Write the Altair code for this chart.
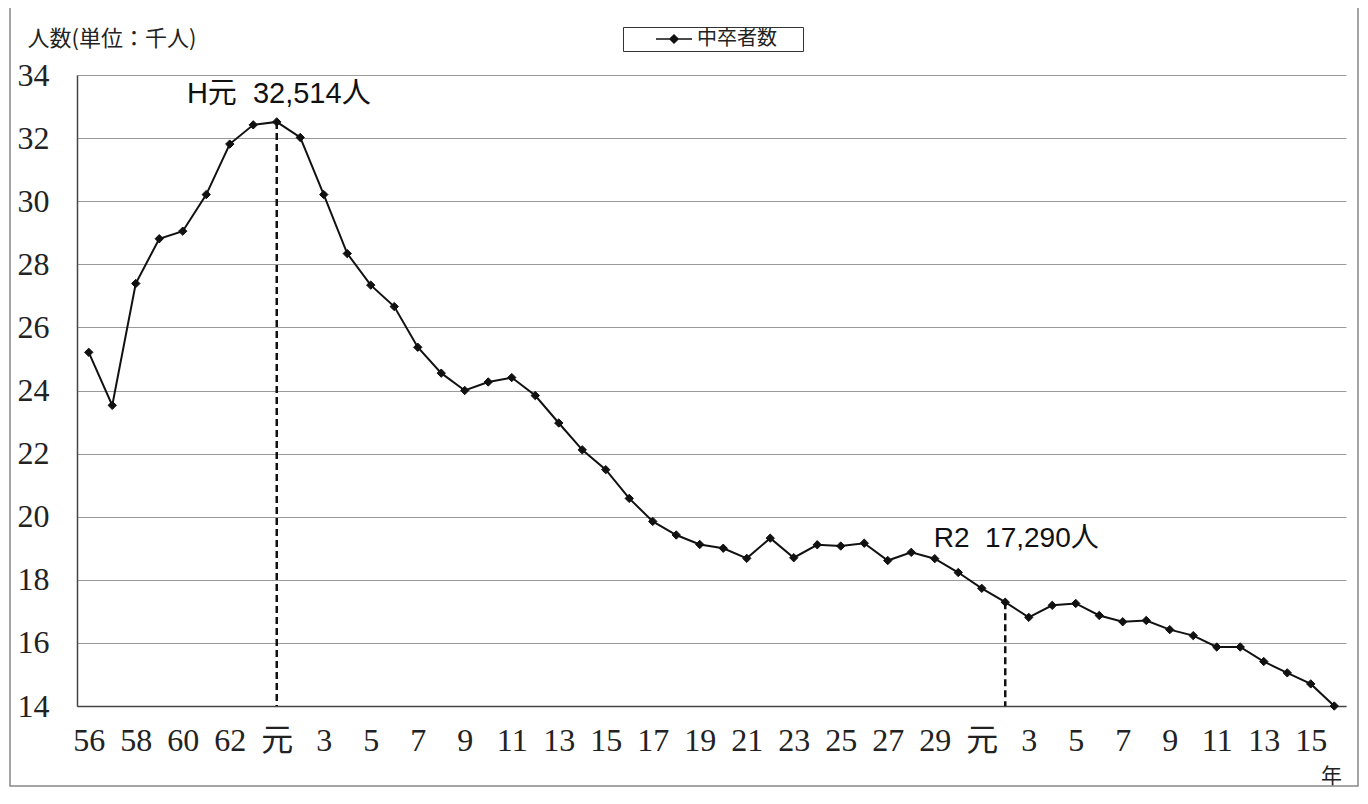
import json
import altair as alt
import pandas as pd

# --- data -------------------------------------------------------------
showa = ["56", "57", "58", "59", "60", "61", "62", "63"]
heisei = ["元"] + [str(i) for i in range(2, 31)]
reiwa = ["元"] + [str(i) for i in range(2, 17)]
years = showa + heisei + reiwa  # 54 year labels (S56 .. R16)

showa_vals = [25.21, 23.53, 27.39, 28.81, 29.05, 30.21, 31.81, 32.42]
heisei_vals = [32.514, 32.02, 30.21, 28.34, 27.34, 26.66, 25.37, 24.55,
               24.00, 24.27, 24.41, 23.84, 22.97, 22.12, 21.49, 20.58,
               19.85, 19.42, 19.12, 19.00, 18.68, 19.32, 18.70, 19.11,
               19.07, 19.16, 18.61, 18.87, 18.67, 18.23]
reiwa_vals = [17.73, 17.29, 16.81, 17.19, 17.25, 16.87, 16.67, 16.71,
              16.42, 16.23, 15.87, 15.87, 15.41, 15.05, 14.70, 14.00]
values = showa_vals + heisei_vals + reiwa_vals

series_name = "中卒者数"
y_ticks = list(range(14, 35, 2))
x_tick_idx = list(range(0, 53, 2))

notes_idx = [8, 39]
notes_text = ["H元\u00a0\u00a032,514人", "R2\u00a0\u00a017,290人"]

df = pd.DataFrame({"idx": list(range(len(years))), "year": years,
                   "value": values, "series": series_name})
notes = pd.DataFrame({"idx": notes_idx,
                      "value": [values[i] for i in notes_idx],
                      "label": notes_text})

# --- chart ------------------------------------------------------------
SERIF = "Liberation Serif, Noto Sans CJK JP"
SANS = "Liberation Sans, Noto Sans CJK JP"
CJK = "Noto Sans CJK JP"

label_expr = json.dumps(years, ensure_ascii=False) + "[datum.value]"

x_scale = alt.Scale(domain=[-0.5, 53.5], nice=False, zero=False)
y_scale = alt.Scale(domain=[14, 34], nice=False, zero=False)

x_axis = alt.Axis(values=x_tick_idx, labelExpr=label_expr, grid=False, ticks=False,
                  domainColor="#444", domainWidth=1.5, labelFont=SERIF,
                  labelFontSize=32, labelColor="#222", labelPadding=19,
                  labelAngle=0, labelOverlap=False, labelFlush=False,
                  title="年", titleFont=CJK, titleFontSize=21,
                  titleFontWeight="normal", titleColor="#222",
                  titleX=1254, titleY=59, titleAlign="center",
                  titleBaseline="top")
y_axis = alt.Axis(values=y_ticks, grid=True, gridColor="#9a9a9a", gridWidth=1,
                  ticks=False, domainColor="#444", domainWidth=1.5,
                  labelFont=SERIF, labelFontSize=32, labelColor="#222",
                  labelPadding=28, title="人数(単位：千人)", titleAngle=0,
                  titleX=-50, titleY=-37, titleAlign="left",
                  titleBaseline="middle", titleFont=CJK, titleFontSize=22,
                  titleFontWeight="normal", titleColor="#222")

base = alt.Chart(df)

border = alt.Chart(alt.Data(values=[{"b": 1}])).mark_rect(
    fillOpacity=0, stroke="#888", strokeWidth=1.5
).encode(x=alt.value(-67), x2=alt.value(1281), y=alt.value(-70), y2=alt.value(711))

line = base.mark_line(color="#111", strokeWidth=2).encode(
    x=alt.X("idx:Q", scale=x_scale, axis=x_axis),
    y=alt.Y("value:Q", scale=y_scale, axis=y_axis),
)

points = base.mark_point(shape="diamond", filled=True, size=70, opacity=1,
                         stroke="#111", strokeWidth=1).encode(
    x=alt.X("idx:Q", scale=x_scale),
    y=alt.Y("value:Q", scale=y_scale),
    color=alt.Color("series:N", scale=alt.Scale(range=["#111"]),
                    legend=alt.Legend(
                        title="\u00a0", titleOrient="right", titlePadding=24,
                        titleFontSize=2,
                        orient="none", legendX=546, legendY=-48,
                        strokeColor="#333", fillColor="white", padding=2,
                        symbolType="M-2,0L2,0M0,-0.45L0.45,0L0,0.45L-0.45,0Z",
                        symbolSize=324, symbolStrokeWidth=1.5,
                        symbolStrokeColor="#111", symbolFillColor="#111",
                        symbolOffset=39, labelOffset=13,
                        labelFont=CJK, labelFontSize=20, labelColor="#222")),
)

rules = alt.Chart(notes).mark_rule(color="#111", strokeWidth=2.5,
                                   strokeDash=[7, 4]).encode(
    x=alt.X("idx:Q", scale=x_scale),
    y=alt.Y("value:Q", scale=y_scale),
    y2=alt.datum(14),
)

note_h = alt.Chart(notes[notes.idx == 8]).mark_text(
    font=SANS, fontSize=29, color="#111", dx=2, dy=-28, align="center",
    baseline="middle").encode(
    x=alt.X("idx:Q", scale=x_scale), y=alt.Y("value:Q", scale=y_scale),
    text="label:N")

note_r = alt.Chart(notes[notes.idx == 39]).mark_text(
    font=SANS, fontSize=28, color="#111", dx=11, dy=-63, align="center",
    baseline="middle").encode(
    x=alt.X("idx:Q", scale=x_scale), y=alt.Y("value:Q", scale=y_scale),
    text="label:N")

chart = alt.layer(border, rules, line, points, note_h, note_r).properties(
    width=1269, height=631,
    autosize=alt.AutoSizeParams(type="none"),
    padding={"left": 69, "top": 67, "right": 14, "bottom": 82},
    background="white",
).configure_view(stroke=None)

chart.save("out.html", embed_options={"renderer": "svg", "actions": False})
